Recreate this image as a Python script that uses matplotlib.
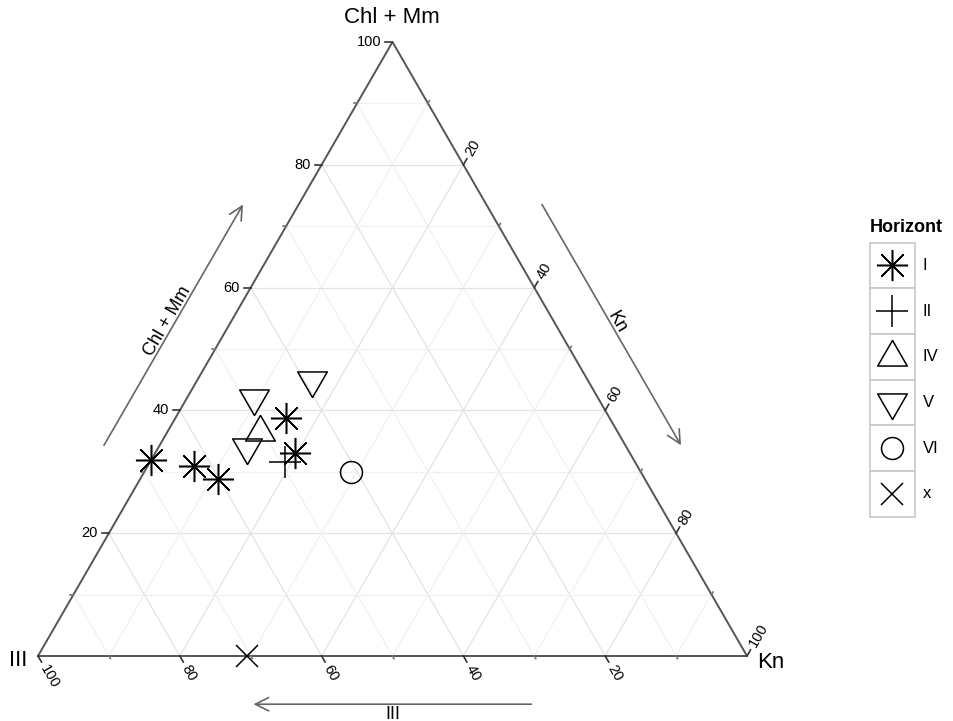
import numpy as np
import matplotlib.pyplot as plt
from matplotlib.patches import Rectangle, FancyArrowPatch

plt.rcParams['font.family'] = ['Liberation Sans', 'DejaVu Sans']

# Daten (Anteile in %)
horizont = ['I', 'I', 'I', 'I', 'I', 'II', 'IV', 'V', 'V', 'V', 'VI', 'x']
chl_mm = [32.0, 31.0, 28.8, 38.8, 33.0, 31.6, 36.5, 42.0, 34.0, 45.0, 29.9, 0.0]
kn = [0.0, 6.5, 11.0, 15.6, 19.7, 19.0, 13.1, 9.4, 12.5, 16.1, 29.2, 29.5]
ill = [68.0, 62.5, 60.2, 45.6, 47.3, 49.4, 50.4, 48.6, 53.5, 38.9, 40.9, 70.5]

legend_levels = ['I', 'II', 'IV', 'V', 'VI', 'x']
tick_values = [20, 40, 60, 80, 100]

S3 = np.sqrt(3) / 2
PX = 1 / 709  # Datenkoordinaten pro Pixel


def tern(c, k, i):
    s = c + k + i
    c, k = c / s, k / s
    return k + c / 2, c * S3


# Marker wie in R (pch 8, 3, 2, 6, 1, 4)
tri_up = [(0, 1), (-S3, -0.5), (S3, -0.5), (0, 1)]
tri_down = [(0, -1), (-S3, 0.5), (S3, 0.5), (0, -1)]
styles = {
    'I': dict(marker=(8, 2, 0), ms=22.4),
    'II': dict(marker='+', ms=22.4),
    'IV': dict(marker=tri_up, ms=24.6),
    'V': dict(marker=tri_down, ms=24.6),
    'VI': dict(marker='o', ms=15.8),
    'x': dict(marker='x', ms=15.8),
}

fig = plt.figure(figsize=(9.54, 7.21), dpi=100)
ax = fig.add_axes([0, 0, 1, 1])
ax.set_xlim(-38 * PX, 916 * PX)
ax.set_ylim(-65 * PX, 656 * PX)
ax.axis('off')

# Gitter
for v in range(10, 100, 10):
    f = v / 100
    col = '#e3e3e3' if v % 20 == 0 else '#f1f1f1'
    for a, b in [((f, 0, 1 - f), (f, 1 - f, 0)),
                 ((0, f, 1 - f), (1 - f, f, 0)),
                 ((0, 1 - f, f), (1 - f, 0, f))]:
        p, q = tern(*a), tern(*b)
        ax.plot([p[0], q[0]], [p[1], q[1]], color=col, lw=0.9, zorder=1)

# Rahmen
corners = [tern(0, 0, 1), tern(0, 1, 0), tern(1, 0, 0), tern(0, 0, 1)]
ax.plot([p[0] for p in corners], [p[1] for p in corners], color='#555555', lw=1.4, zorder=2)

# Achsenstriche und Beschriftung
tc = '#333333'
for v in range(10, 101, 10):
    f = v / 100
    major = v % 20 == 0
    L = (7 if major else 3) * PX
    kw = dict(color=tc if major else '#777777', lw=1.2, zorder=2)
    # Chl + Mm (links)
    x0, y0 = tern(f, 0, 1 - f)
    ax.plot([x0, x0 - L], [y0, y0], **kw)
    # Kn (rechts)
    x1, y1 = tern(1 - f, f, 0)
    ax.plot([x1, x1 + 0.5 * L], [y1, y1 + S3 * L], **kw)
    # III (unten)
    x2, y2 = tern(0, 1 - f, f)
    ax.plot([x2, x2 + 0.5 * L], [y2, y2 - S3 * L], **kw)
    if v in tick_values:
        d = 11 * PX
        ax.text(x0 - d, y0, str(v), ha='right', va='center', fontsize=10.5)
        ax.text(x1 + 0.5 * d, y1 + S3 * d, str(v), ha='left', va='center',
                rotation=60, rotation_mode='anchor', fontsize=10.5)
        ax.text(x2 + 0.5 * d, y2 - S3 * d, str(v), ha='left', va='center',
                rotation=-60, rotation_mode='anchor', fontsize=10.5)

# Eckbeschriftungen
ax.text(0.499, 0.900, 'Chl + Mm', ha='center', va='center', fontsize=16)
ax.text(-0.028, -0.006, 'III', ha='center', va='center', fontsize=16)
ax.text(1.033, -0.009, 'Kn', ha='center', va='center', fontsize=16)

# Pfeile entlang der Achsen
off = 0.068
ac = '#666666'
arrows = [
    # Start, Ende, Normale, Text, Drehung, Textabstand
    (tern(0.3, 0, 0.7), tern(0.7, 0, 0.3), (-S3, 0.5), 'Chl + Mm', 60, 0.078),
    (tern(0.7, 0.3, 0), tern(0.3, 0.7, 0), (S3, 0.5), 'Kn', -60, 0.076),
    (tern(0, 0.7, 0.3), tern(0, 0.3, 0.7), (0, -1), 'III', 0, 0.082),
]
for p, q, n, lab, rot, loff in arrows:
    a = (p[0] + off * n[0], p[1] + off * n[1])
    b = (q[0] + off * n[0], q[1] + off * n[1])
    ax.add_patch(FancyArrowPatch(a, b, arrowstyle='->,head_length=0.8,head_width=0.4',
                                 mutation_scale=12, color=ac, lw=1.2, zorder=2))
    m = ((p[0] + q[0]) / 2 + loff * n[0], (p[1] + q[1]) / 2 + loff * n[1])
    ax.text(m[0], m[1], lab, ha='center', va='center', rotation=rot, fontsize=13)

# Datenpunkte
for h, c, k, i in zip(horizont, chl_mm, kn, ill):
    x, y = tern(c, k, i)
    st = styles[h]
    ax.plot(x, y, linestyle='none', marker=st['marker'], ms=st['ms'],
            mfc='none', mec='black', mew=1.1, zorder=5)

# Legende (Pixelkoordinaten)
lax = fig.add_axes([0, 0, 1, 1])
lax.set_xlim(0, 954)
lax.set_ylim(721, 0)
lax.axis('off')
lax.text(870, 228, 'Horizont', ha='left', va='center', fontsize=13, fontweight='bold')
row_h = 45.7
top = 242.5
for j, h in enumerate(legend_levels):
    y = top + j * row_h
    lax.add_patch(Rectangle((870, y), 45, row_h, fc='white', ec='#c8c8c8', lw=1.2))
    st = styles[h]
    lax.plot(892.5, y + row_h / 2, linestyle='none', marker=st['marker'], ms=st['ms'],
             mfc='none', mec='black', mew=1.1)
    lax.text(923, y + row_h / 2, h, ha='left', va='center', fontsize=12)

fig.savefig('out.png', dpi=100)
